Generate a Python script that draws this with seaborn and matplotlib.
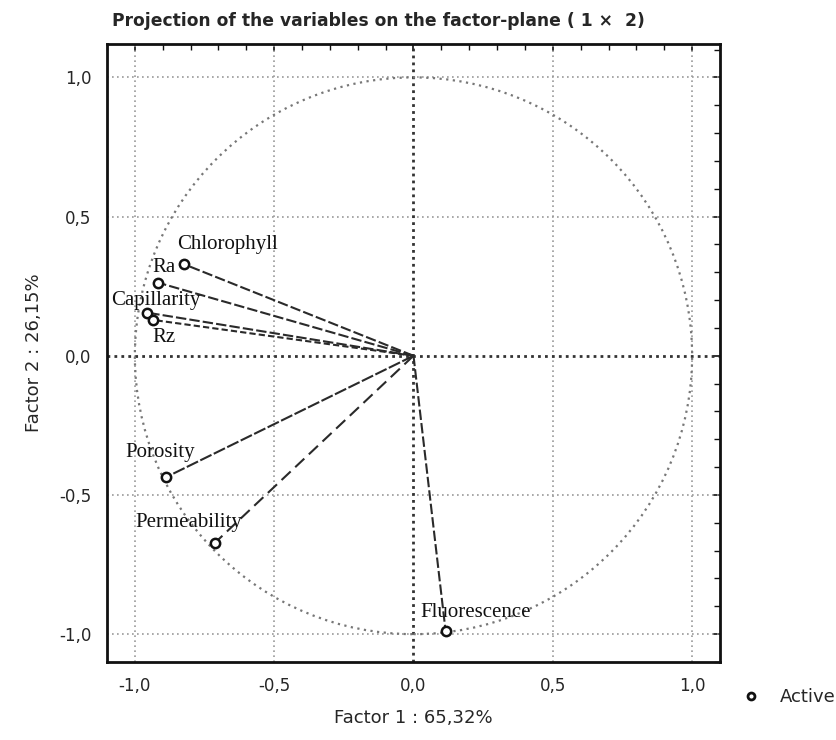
import matplotlib
matplotlib.use("Agg")
import matplotlib.pyplot as plt
from matplotlib.lines import Line2D
from matplotlib.ticker import MultipleLocator, FuncFormatter
import numpy as np
import pandas as pd
import seaborn as sns

# Factor loadings
variables = ["Chlorophyll", "Ra", "Capillarity", "Rz", "Porosity", "Permeability", "Fluorescence"]
factor1 = [-0.824, -0.918, -0.956, -0.936, -0.888, -0.714, 0.115]
factor2 = [0.329, 0.263, 0.155, 0.129, -0.436, -0.673, -0.987]

# label offsets (data units) and dash patterns, kept apart from the data
label_offset = {
    "Chlorophyll": (-0.024, 0.070),
    "Ra": (-0.019, 0.053),
    "Capillarity": (-0.130, 0.042),
    "Rz": (-0.001, -0.063),
    "Porosity": (-0.146, 0.088),
    "Permeability": (-0.284, 0.075),
    "Fluorescence": (-0.090, 0.064),
}
dash_style = {
    "Chlorophyll": (5, 1.5),
    "Ra": (5, 1.5),
    "Capillarity": (5, 1.5),
    "Rz": (3, 1.5),
    "Porosity": (6, 1.2),
    "Permeability": (6, 3),
    "Fluorescence": (5, 1.5),
}

df = pd.DataFrame({"variable": variables, "factor1": factor1, "factor2": factor2})

sns.set_style("white")
plt.rcParams["font.family"] = ["DejaVu Sans"]
plt.rcParams["axes.unicode_minus"] = False

fig = plt.figure(figsize=(8.37, 7.40), dpi=100)
ax = fig.add_axes([107 / 837, 1 - 662 / 740, (720 - 107) / 837, (662 - 44) / 740])

ax.set_xlim(-1.1, 1.1)
ax.set_ylim(-1.1, 1.12)

# grid and reference lines
for v in [-1.0, -0.5, 0.5, 1.0]:
    ax.axvline(v, color="#9a9a9a", lw=1.2, ls=(0, (1, 2)), zorder=1)
    ax.axhline(v, color="#9a9a9a", lw=1.2, ls=(0, (1, 2)), zorder=1)
ax.axvline(0, color="#333333", lw=2.0, ls=(0, (1, 1.5)), zorder=1)
ax.axhline(0, color="#333333", lw=2.0, ls=(0, (1, 1.5)), zorder=1)

circle = plt.Circle((0, 0), 1.0, fill=False, color="#777777", lw=1.6, ls=(0, (1, 2)), zorder=1)
ax.add_patch(circle)

# vectors from origin
for name, x, y in zip(variables, factor1, factor2):
    ax.plot([0, x], [0, y], color="#2a2a2a", lw=1.5, dashes=dash_style[name], zorder=2)

sns.scatterplot(data=df, x="factor1", y="factor2", ax=ax, marker="o", s=45,
                facecolor="white", edgecolor="#111111", linewidth=1.8, zorder=3, legend=False)

for name, x, y in zip(variables, factor1, factor2):
    dx, dy = label_offset[name]
    ax.text(x + dx, y + dy, name, fontsize=15, family="Liberation Serif",
            ha="left", va="center", color="#111111", zorder=4)

# ticks
ax.xaxis.set_major_locator(MultipleLocator(0.5))
ax.yaxis.set_major_locator(MultipleLocator(0.5))
ax.xaxis.set_minor_locator(MultipleLocator(0.1))
ax.yaxis.set_minor_locator(MultipleLocator(0.1))
fmt = FuncFormatter(lambda v, p: f"{v:.1f}".replace(".", ","))
ax.xaxis.set_major_formatter(fmt)
ax.yaxis.set_major_formatter(fmt)
ax.tick_params(which="both", direction="in", top=True, right=True, color="#111111")
ax.tick_params(which="major", length=5, width=1.2, labelsize=12, pad=11)
ax.tick_params(which="minor", length=4, width=1.0)
for s in ax.spines.values():
    s.set_linewidth(2.0)
    s.set_color("#111111")

ax.set_xlabel("Factor 1 : 65,32%", fontsize=13, labelpad=10)
ax.set_ylabel("Factor 2 : 26,15%", fontsize=13)
ax.yaxis.set_label_coords(-(107 - 43) / 613, 0.5)

fig.text(112 / 837, 1 - 21 / 740, "Projection of the variables on the factor-plane ( 1 ×  2)",
         ha="left", va="center", fontsize=12.3, fontweight="bold", family="DejaVu Sans")

# legend outside the axes
handle = Line2D([], [], marker="o", ls="", mfc="white", mec="#111111", ms=5, mew=2)
fig.legend(handles=[handle], labels=["Active"], loc="center left",
           bbox_to_anchor=(726 / 837, 1 - 697 / 740), frameon=False, fontsize=13,
           handletextpad=0.6, borderaxespad=0)

fig.savefig("out.png", dpi=100, facecolor="white")
